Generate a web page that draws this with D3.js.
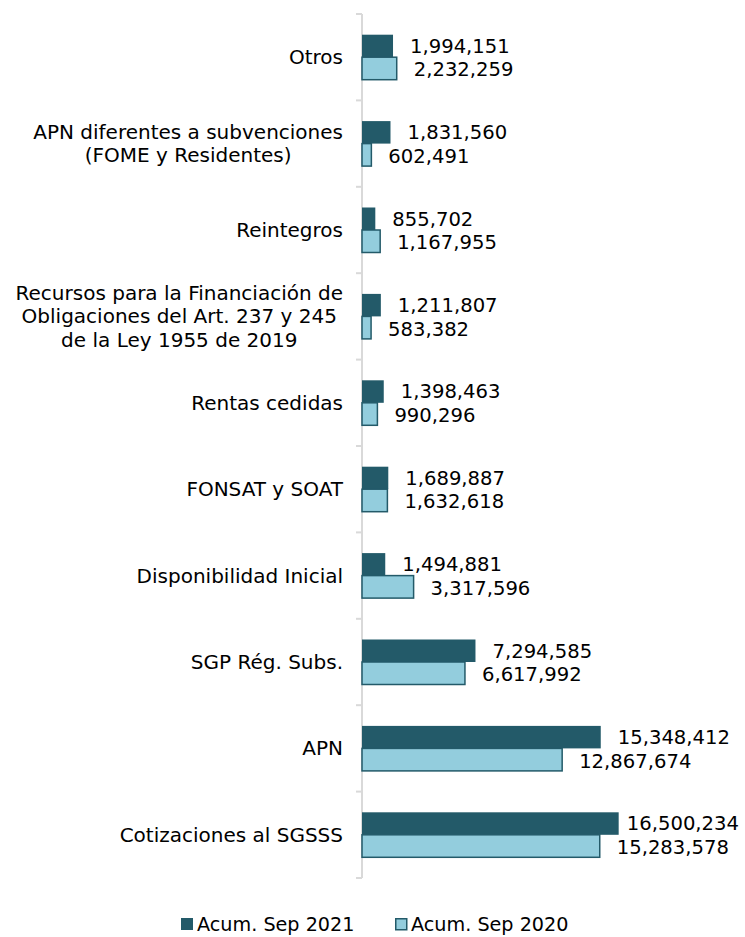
<!DOCTYPE html>
<html>
<head>
<meta charset="utf-8">
<script src="https://cdn.jsdelivr.net/npm/d3@7"></script>
<style>
  body { margin: 0; background: #fff; }
  svg { font-family: "DejaVu Sans", Verdana, sans-serif; }
</style>
</head>
<body>
<svg id="chart" width="745" height="937"></svg>
<script>
const categories = [
  ['Otros'],
  ['APN diferentes a subvenciones', '(FOME y Residentes)'],
  ['Reintegros'],
  ['Recursos para la Financiación de', 'Obligaciones del Art. 237 y 245', 'de la Ley 1955 de 2019'],
  ['Rentas cedidas'],
  ['FONSAT y SOAT'],
  ['Disponibilidad Inicial'],
  ['SGP Rég. Subs.'],
  ['APN'],
  ['Cotizaciones al SGSSS']
];
const sep2021 = [1994151, 1831560, 855702, 1211807, 1398463, 1689887, 1494881, 7294585, 15348412, 16500234];
const sep2020 = [2232259, 602491, 1167955, 583382, 990296, 1632618, 3317596, 6617992, 12867674, 15283578];
const seriesNames = ['Acum. Sep 2021', 'Acum. Sep 2020'];

const darkColor = '#235a69';
const lightColor = '#93cddd';
const catFont = 20;
const numFont = 19.6;
const legendFont = 19.2;

const svg = d3.select('#chart');
const keys = categories.map((c, i) => i);

const x = d3.scaleLinear().domain([0, 18000000]).range([362, 642]);
const y = d3.scaleBand().domain(keys).range([14, 878]);
const barH = 22.5;
const fmt = d3.format(',');

// axis line with ticks at band edges
const axis = svg.append('g');
axis.append('line')
  .attr('x1', 362).attr('x2', 362)
  .attr('y1', 14).attr('y2', 878)
  .style('stroke', '#d9d9d9').style('stroke-width', 2);
axis.selectAll('line.tick')
  .data(keys.concat([keys.length]))
  .join('line')
  .attr('class', 'tick')
  .attr('x1', 356).attr('x2', 362)
  .attr('y1', d => 14 + d * y.step())
  .attr('y2', d => 14 + d * y.step())
  .style('stroke', '#d9d9d9').style('stroke-width', 2);

// category labels
const labels = svg.append('g');
categories.forEach((lines, i) => {
  const cy = y(i) + y.bandwidth() / 2;
  const lh = 23.5;
  const t = labels.append('text')
    .style('font-size', catFont + 'px')
    .style('fill', '#000');
  lines.forEach((line, j) => {
    t.append('tspan')
      .attr('y', cy + (j - (lines.length - 1) / 2) * lh)
      .attr('dy', '0.35em')
      .text(line);
  });
  // lines centred on each other, block right-aligned
  let maxW = 0;
  t.selectAll('tspan').each(function () {
    maxW = Math.max(maxW, this.getComputedTextLength());
  });
  t.attr('text-anchor', 'middle');
  t.selectAll('tspan').attr('x', 343 - maxW / 2);
});

// bars
const bars = svg.append('g');
bars.selectAll('rect.s21')
  .data(sep2021)
  .join('rect')
  .attr('class', 's21')
  .attr('x', x(0))
  .attr('y', (d, i) => y(i) + y.bandwidth() / 2 - barH)
  .attr('width', d => x(d) - x(0))
  .attr('height', barH)
  .style('fill', darkColor);

bars.selectAll('rect.s20')
  .data(sep2020)
  .join('rect')
  .attr('class', 's20')
  .attr('x', x(0))
  .attr('y', (d, i) => y(i) + y.bandwidth() / 2)
  .attr('width', d => x(d) - x(0))
  .attr('height', barH)
  .style('fill', lightColor)
  .style('stroke', darkColor)
  .style('stroke-width', 1.5);

// value labels
function addLabels(data, offset) {
  svg.append('g').selectAll('text')
    .data(data)
    .join('text')
    .attr('y', (d, i) => y(i) + y.bandwidth() / 2 + offset)
    .attr('dy', '0.35em')
    .style('font-size', numFont + 'px')
    .style('fill', '#000')
    .text(d => fmt(d))
    .attr('x', function (d) {
      const w = this.getComputedTextLength();
      return Math.min(x(d) + 17, 739 - w);
    });
}
addLabels(sep2021, -barH / 2);
addLabels(sep2020, barH / 2 + 1);

// legend
const legend = svg.append('g');
const legendX = [181, 395];
seriesNames.forEach((name, i) => {
  legend.append('rect')
    .attr('x', legendX[i] + (i ? 0.75 : 0))
    .attr('y', 918 + (i ? 0.75 : 0))
    .attr('width', i ? 11 : 12)
    .attr('height', i ? 11 : 12)
    .style('fill', i ? lightColor : darkColor)
    .style('stroke', i ? darkColor : 'none')
    .style('stroke-width', 1.5);
  legend.append('text')
    .attr('x', legendX[i] + 16)
    .attr('y', 924)
    .attr('dy', '0.35em')
    .style('font-size', legendFont + 'px')
    .text(name);
});
</script>
</body>
</html>
